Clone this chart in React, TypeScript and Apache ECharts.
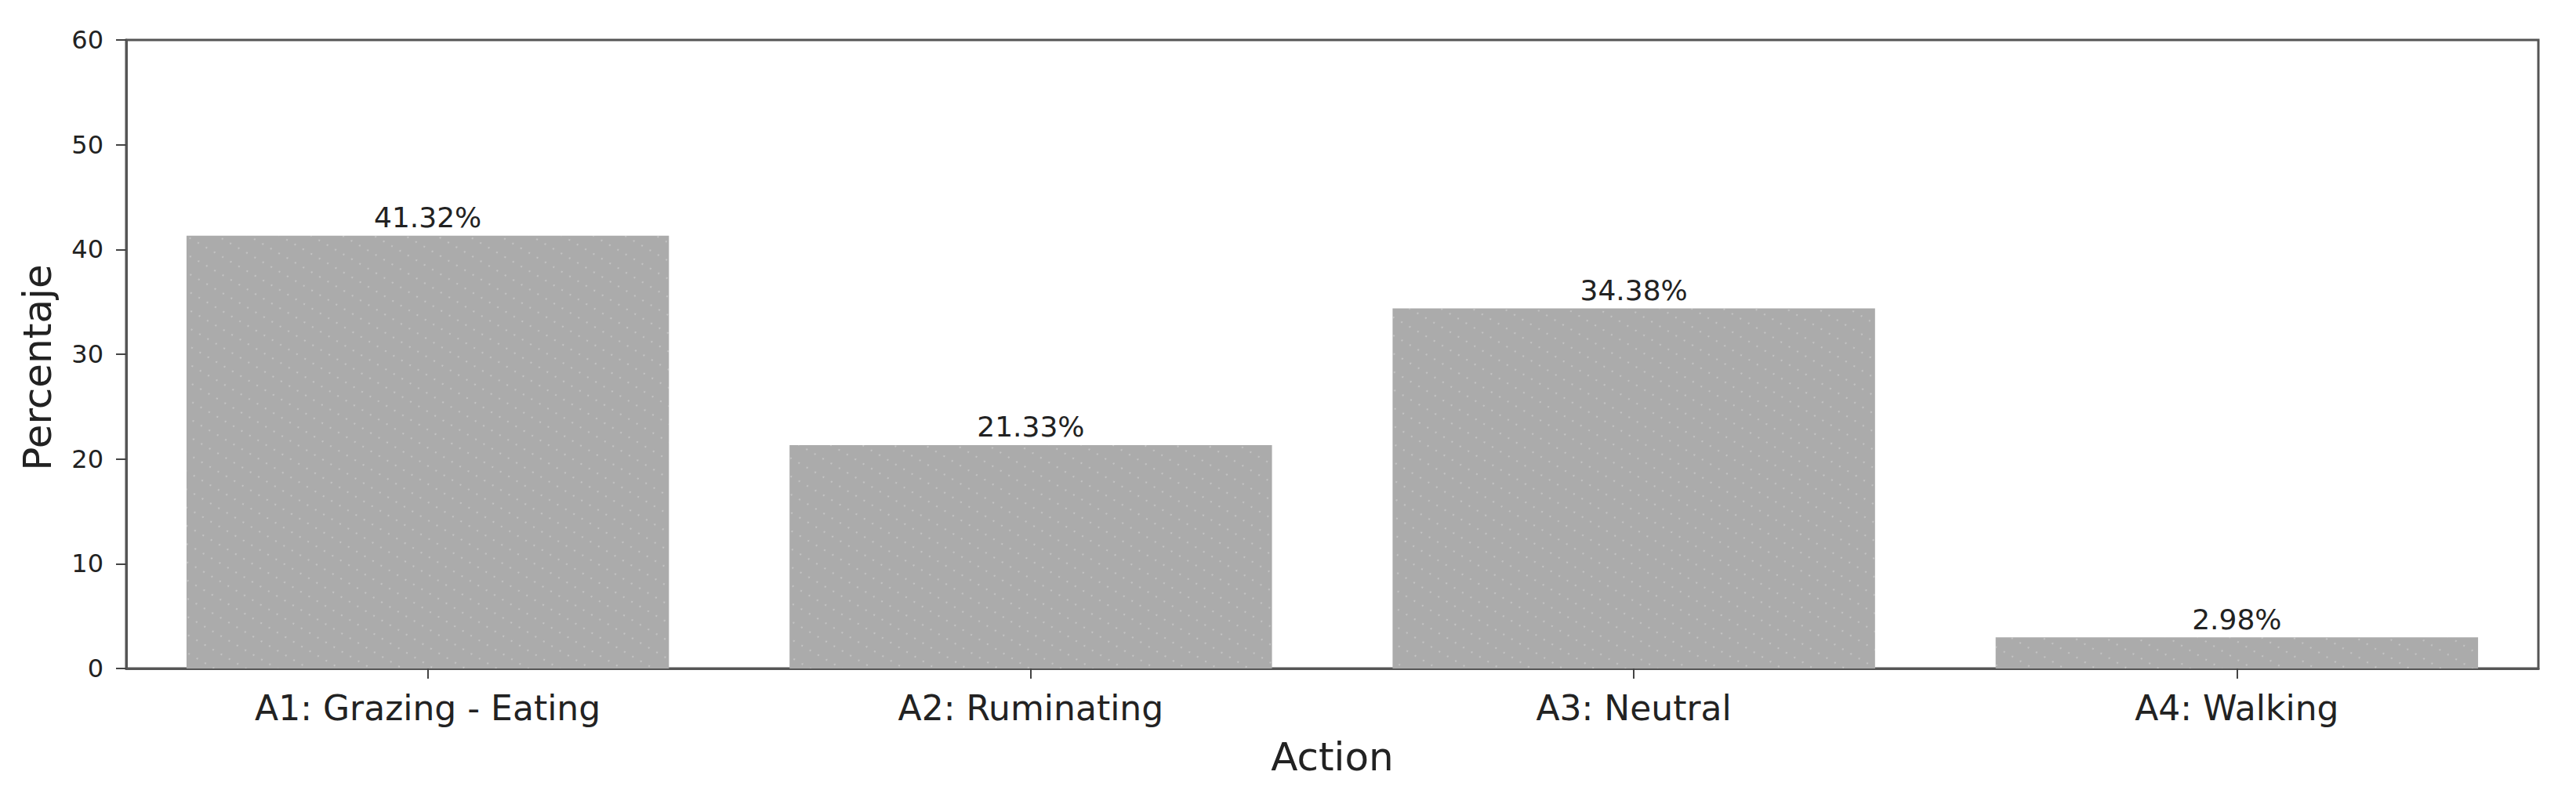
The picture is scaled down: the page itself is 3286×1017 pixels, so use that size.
import React, { useEffect, useRef } from "react";
import * as echarts from "echarts";

const categories = ["A1: Grazing - Eating", "A2: Ruminating", "A3: Neutral", "A4: Walking"];
const percentages = [41.32, 21.33, 34.38, 2.98];
const yTicks = { min: 0, max: 60, interval: 10 };
const xAxisTitle = "Action";
const yAxisTitle = "Percentaje";

const FONT = "DejaVu Sans";

export default function App() {
  const ref = useRef<HTMLDivElement>(null);
  useEffect(() => {
    if (!ref.current) return;
    const chart = echarts.init(ref.current, undefined, { renderer: "svg" });
    chart.setOption({
      animation: false,
      backgroundColor: "#ffffff",
      aria: { enabled: true, decal: { show: true } },
      grid: {
        left: 161,
        top: 51,
        right: 48,
        bottom: 164,
        show: true,
        borderColor: "#555555",
        borderWidth: 3,
        backgroundColor: "transparent",
      },
      xAxis: {
        type: "category",
        data: categories,
        name: xAxisTitle,
        nameLocation: "middle",
        nameGap: 88,
        nameTextStyle: { fontFamily: FONT, fontSize: 50, color: "#222" },
        axisLine: { show: true, lineStyle: { color: "#555555", width: 3 } },
        axisTick: { show: true, alignWithLabel: true, length: 13, lineStyle: { color: "#444", width: 2 } },
        axisLabel: { fontFamily: FONT, fontSize: 44, color: "#222", margin: 28 },
        splitLine: { show: false },
      },
      yAxis: {
        type: "value",
        min: yTicks.min,
        max: yTicks.max,
        interval: yTicks.interval,
        name: yAxisTitle,
        nameLocation: "middle",
        nameGap: 88,
        nameRotate: 90,
        nameTextStyle: { fontFamily: FONT, fontSize: 50, color: "#222", padding: [0, 34, 0, 0] },
        axisLine: { show: true, lineStyle: { color: "#555555", width: 3 } },
        axisTick: { show: true, length: 13, lineStyle: { color: "#444", width: 2 } },
        axisLabel: { fontFamily: FONT, fontSize: 32, color: "#222", margin: 29 },
        splitLine: { show: false },
      },
      series: [
        {
          type: "bar",
          data: percentages,
          barCategoryGap: "20%",
          itemStyle: {
            color: "#ababab",
            decal: {
              symbol: "circle",
              symbolSize: 0.5,
              dashArrayX: [4, 8],
              dashArrayY: [4, 16],
              color: "rgba(255,255,255,0.35)",
            },
          },
          label: {
            show: true,
            position: "top",
            distance: 5,
            fontFamily: FONT,
            fontSize: 36,
            color: "#222",
            formatter: (p: any) => `${Number(p.value).toFixed(2)}%`,
          },
        },
      ],
    });
    return () => chart.dispose();
  }, []);
  return (
    <div
      ref={ref}
      style={{ position: "fixed", left: 0, top: 0, width: 3286, height: 1017 }}
    />
  );
}
